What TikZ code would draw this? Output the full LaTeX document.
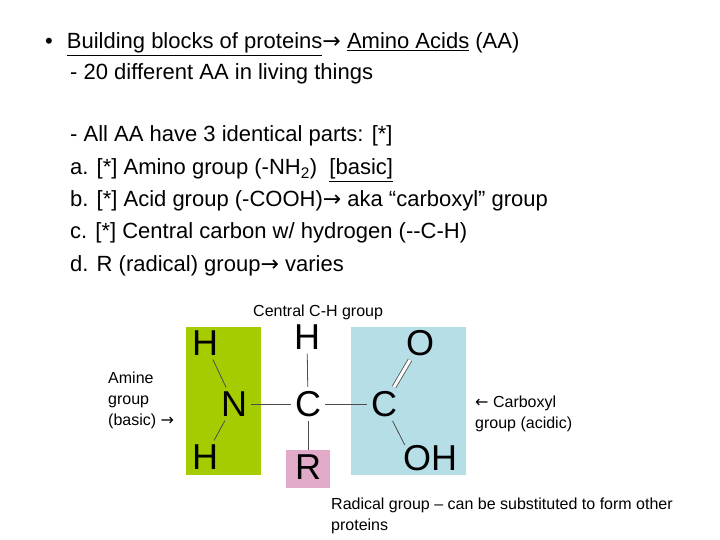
\documentclass[tikz,border=0pt]{standalone}
\usepackage{fontspec}
\setmainfont{Liberation Sans}
\newfontfamily\djvfont{DejaVu Sans}
\newcommand{\myrarr}{{\djvfont\char"2192}}
\newcommand{\mylarr}{{\djvfont\char"2190}}
\begin{document}
\begin{tikzpicture}[x=1pt,y=-1pt,
  tx/.style={anchor=base west,inner sep=0pt,font=\fontsize{22}{26}\selectfont},
  sm/.style={anchor=north west,inner sep=0pt,font=\fontsize{16}{21}\selectfont,align=left},
  atomlbl/.style={inner sep=4pt,font=\fontsize{36}{38}\selectfont},
  bd/.style={line width=0.8pt,black!70}]
\useasboundingbox (0,0) rectangle (720,540);
\fill[fill={rgb,255:red,165;green,204;blue,0}] (186,327) rectangle (261,475);
\fill[fill={rgb,255:red,182;green,222;blue,230}] (351,327) rectangle (466,475);
\fill[fill={rgb,255:red,225;green,170;blue,200}] (286,450) rectangle (330,488);
\node[tx] (t1) at (45,49) {•\hspace{14pt}\underline{Building blocks of proteins}\myrarr{} \underline{Amino Acids} (AA)};
\node[tx] (t2) at (70,80) {- 20 different AA in living things};
\node[tx] (t3) at (70,142) {- All AA have 3 identical parts: [*]};
\node[tx] (t4) at (70,175) {a. [*] Amino group (-NH\textsubscript{2})\ \ \underline{[basic]}};
\node[tx] (t5) at (70,207) {b. [*] Acid group (-COOH)\myrarr{} aka “carboxyl” group};
\node[tx] (t6) at (70,239) {c. [*] Central carbon w/ hydrogen (-{}-C-H)};
\node[tx] (t7) at (70,271) {d. R (radical) group\myrarr{} varies};
\node[sm] (l1) at (253,305) {Central C-H group};
\node[sm] (l2) at (108,372) {Amine\\group\\(basic) \myrarr};
\node[sm] (l3) at (475,396) {\mylarr{} Carboxyl\\group (acidic)};
\node[sm] (l4) at (331,498) {Radical group – can be substituted to form other\\proteins};
\node[atomlbl] (h1) at (205,343) {H};
\node[atomlbl] (n) at (234,404) {N};
\node[atomlbl] (h2) at (205,457) {H};
\node[atomlbl] (c1) at (308,404) {C};
\node[atomlbl] (ht) at (307,337) {H};
\node[atomlbl] (r) at (308,467) {R};
\node[atomlbl] (c2) at (384,404) {C};
\node[atomlbl] (o) at (420,343) {O};
\node[atomlbl] (oh) at (430,458) {OH};
\draw[bd] (h1) -- (n); \draw[bd] (h2) -- (n);
\draw[bd] (n) -- (c1); \draw[bd] (c1) -- (c2);
\draw[bd] (ht) -- (c1); \draw[bd] (c1) -- (r);
\draw[bd,double,double distance=3pt] (c2) -- (o);
\draw[bd] (c2) -- ([xshift=6pt,yshift=-4pt]oh.north west);
\end{tikzpicture}
\end{document}
